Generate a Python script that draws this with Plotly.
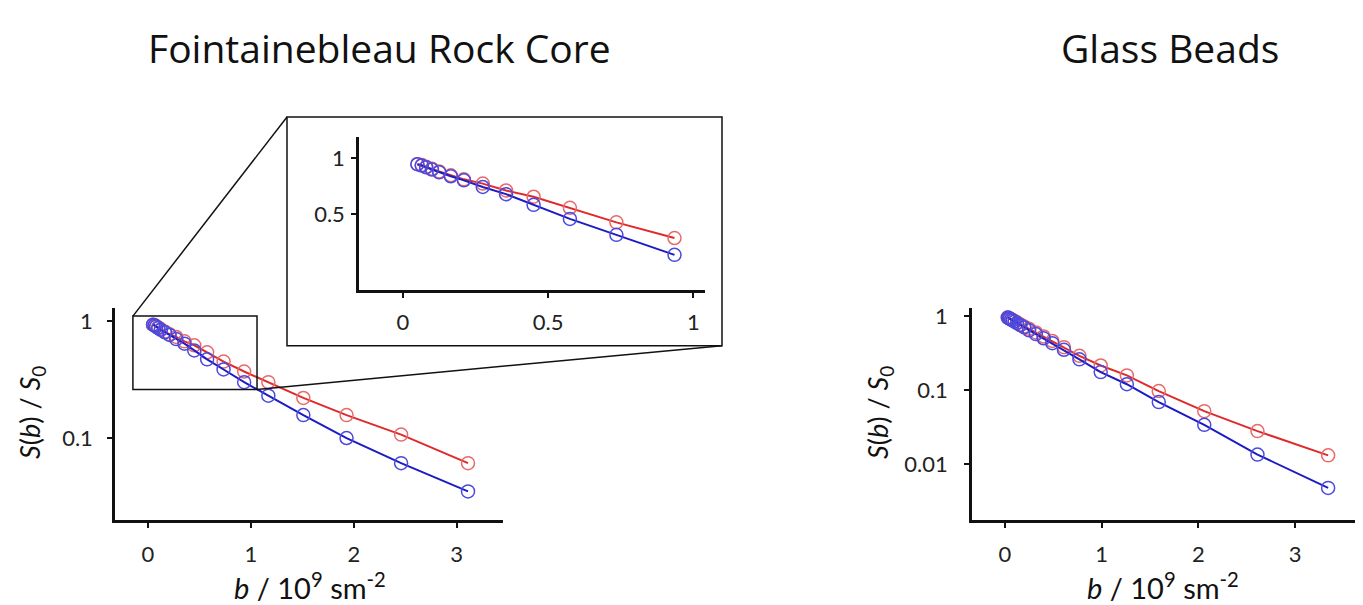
import math
import plotly.graph_objects as go

# ---------------- data ----------------
# Fontainebleau rock core
rock_b = [0.05, 0.065, 0.08, 0.10, 0.125, 0.165, 0.21, 0.275, 0.355, 0.45,
          0.575, 0.735, 0.935, 1.17, 1.51, 1.93, 2.46, 3.11]
rock_red = [0.93, 0.92, 0.90, 0.88, 0.85, 0.81, 0.77, 0.73, 0.67, 0.62,
            0.54, 0.45, 0.37, 0.30, 0.22, 0.157, 0.107, 0.061]
rock_blue = [0.93, 0.915, 0.895, 0.87, 0.84, 0.80, 0.76, 0.70, 0.64, 0.56,
             0.47, 0.385, 0.30, 0.23, 0.157, 0.10, 0.061, 0.035]

# Glass beads
glass_b = [0.03, 0.04, 0.05, 0.065, 0.08, 0.10, 0.125, 0.16, 0.20, 0.25,
           0.32, 0.40, 0.49, 0.61, 0.77, 0.99, 1.26, 1.59, 2.06, 2.61, 3.34]
glass_red = [0.955, 0.94, 0.925, 0.90, 0.88, 0.85, 0.82, 0.77, 0.72, 0.67,
             0.60, 0.53, 0.46, 0.38, 0.29, 0.215, 0.158, 0.097, 0.052, 0.028, 0.0132]
glass_blue = [0.95, 0.935, 0.92, 0.895, 0.87, 0.84, 0.80, 0.75, 0.70, 0.64,
              0.57, 0.50, 0.43, 0.35, 0.26, 0.175, 0.12, 0.069, 0.034, 0.0135, 0.0048]

titles = ["Fointainebleau Rock Core", "Glass Beads"]
x_ticks_main = [0, 1, 2, 3]
x_ticks_inset = [0, 0.5, 1]
x_ticklabels_inset = ["0", "0.5", "1"]
y_ticks_rock = [0.1, 1]
y_ticklabels_rock = ["0.1", "1"]
y_ticks_inset = [0.5, 1]
y_ticklabels_inset = ["0.5", "1"]
y_ticks_glass = [0.01, 0.1, 1]
y_ticklabels_glass = ["0.01", "0.1", "1"]

# zoom region shown in the inset (data units of the rock plot)
zoom_x = [-0.146, 1.06]
zoom_y = [0.26, 1.10]

# ---------------- layout constants ----------------
OFF = 8  # default page body margin
W, H = 1363 - OFF, 605 - OFF
def px(x):
    return (x - OFF) / W
def py(y):
    return 1 - (y - OFF) / H

RED_LINE = "#e02a2a"
RED_MARK = "#e86a6a"
BLUE_LINE = "#1c1cc4"
BLUE_MARK = "#4a4ae0"
FONT = "Lato"
TICKFONT = dict(family=FONT, size=22, color="#222")

main_xdom = [px(115), px(503)]
main_ydom = [py(519), py(305)]
main_xr = [-0.32, 3.45]
main_yr = [math.log10(0.02), math.log10(1.29)]

ins_xdom = [px(359), px(705)]
ins_ydom = [py(287), py(132)]
ins_xr = [-0.151, 1.04]
ins_yr = [math.log10(0.193), math.log10(1.31)]

gl_xdom = [px(972), px(1362)]
gl_ydom = [py(519), py(305)]
gl_xr = [-0.34, 3.69]
gl_yr = [math.log10(0.00178), math.log10(1.28)]

fig = go.Figure()

def add_pair(b, red, blue, xa, ya, msize):
    for yv, lc, mc in [(red, RED_LINE, RED_MARK), (blue, BLUE_LINE, BLUE_MARK)]:
        fig.add_trace(go.Scatter(
            x=b, y=yv, xaxis=xa, yaxis=ya, mode="lines+markers",
            line=dict(color=lc, width=2),
            marker=dict(symbol="circle-open", size=msize, color=mc,
                        line=dict(width=1.5, color=mc)),
            showlegend=False, hoverinfo="x+y"))

add_pair(rock_b, rock_red, rock_blue, "x", "y", 13)
ins_b = [v for v in rock_b if v <= 1.0]
n = len(ins_b)
add_pair(ins_b, rock_red[:n], rock_blue[:n], "x2", "y2", 13)
add_pair(glass_b, glass_red, glass_blue, "x3", "y3", 13)

axis_common = dict(showline=True, linewidth=2.5, linecolor="#111",
                   ticks="outside", ticklen=5, tickwidth=2, tickcolor="#111",
                   showgrid=False, zeroline=False, tickfont=TICKFONT,
                   fixedrange=True)

fig.update_layout(
    width=W, height=H, margin=dict(l=0, r=0, t=0, b=0),
    paper_bgcolor="white", plot_bgcolor="rgba(0,0,0,0)",
    xaxis=dict(domain=main_xdom, range=main_xr, anchor="y",
               tickvals=x_ticks_main, ticklabelstandoff=8, **axis_common),
    yaxis=dict(domain=main_ydom, type="log", range=main_yr, anchor="x",
               tickvals=y_ticks_rock, ticktext=y_ticklabels_rock,
               ticklabelstandoff=10, **axis_common),
    xaxis2=dict(domain=ins_xdom, range=ins_xr, anchor="y2",
                tickvals=x_ticks_inset, ticktext=x_ticklabels_inset,
                ticklabelstandoff=6, **axis_common),
    yaxis2=dict(domain=ins_ydom, type="log", range=ins_yr, anchor="x2",
                tickvals=y_ticks_inset, ticktext=y_ticklabels_inset,
                ticklabelstandoff=2, **axis_common),
    xaxis3=dict(domain=gl_xdom, range=gl_xr, anchor="y3",
                tickvals=x_ticks_main, ticklabelstandoff=8, **axis_common),
    yaxis3=dict(domain=gl_ydom, type="log", range=gl_yr, anchor="x3",
                tickvals=y_ticks_glass, ticktext=y_ticklabels_glass,
                ticklabelstandoff=12, **axis_common),
)

def data_to_paper(xv, yv, xdom, ydom, xr, yr):
    X = xdom[0] + (xv - xr[0]) / (xr[1] - xr[0]) * (xdom[1] - xdom[0])
    Y = ydom[0] + (math.log10(yv) - yr[0]) / (yr[1] - yr[0]) * (ydom[1] - ydom[0])
    return X, Y

zx0, zy1 = data_to_paper(zoom_x[0], zoom_y[1], main_xdom, main_ydom, main_xr, main_yr)
zx1, zy0 = data_to_paper(zoom_x[1], zoom_y[0], main_xdom, main_ydom, main_xr, main_yr)

# inset frame (pixels)
fx0, fy_top, fx1, fy_bot = px(287), py(112), px(722), py(343)

shapes = [
    dict(type="rect", xref="paper", yref="paper", x0=zx0, x1=zx1, y0=zy0, y1=zy1,
         line=dict(color="#111", width=1.5)),
    dict(type="rect", xref="paper", yref="paper", x0=fx0, x1=fx1, y0=fy_bot, y1=fy_top,
         line=dict(color="#111", width=1.5)),
    dict(type="line", xref="paper", yref="paper", x0=zx0, y0=zy1, x1=fx0, y1=fy_top,
         line=dict(color="#111", width=1.5)),
    dict(type="line", xref="paper", yref="paper", x0=zx1, y0=zy0, x1=fx1, y1=fy_bot,
         line=dict(color="#111", width=1.5)),
]
fig.update_layout(shapes=shapes)

ylab = "<i>S</i>(<i>b</i>) / <i>S</i><sub>0</sub>"
xlab = "<i>b</i> / 10<sup>9</sup> sm<sup>-2</sup>"
TITLEFONT = dict(family="Open Sans", size=39, color="#111")
LABFONT = dict(family=FONT, size=29, color="#111")
YLABFONT = dict(family=FONT, size=27, color="#111")

def A(text, x, y, font, angle=0):
    return dict(text=text, x=px(x), y=py(y), xref="paper", yref="paper",
                xanchor="center", yanchor="middle", textangle=angle,
                showarrow=False, font=font)

ann = [
    A(titles[0], 379, 42, TITLEFONT),
    A(titles[1], 1170, 42, TITLEFONT),
    A(ylab, 32, 411, YLABFONT, -90),
    A(ylab, 880, 411, YLABFONT, -90),
    A(xlab, 310, 586, LABFONT),
    A(xlab, 1163, 586, LABFONT),
]
fig.update_layout(annotations=ann)

fig.write_html("out.html")
